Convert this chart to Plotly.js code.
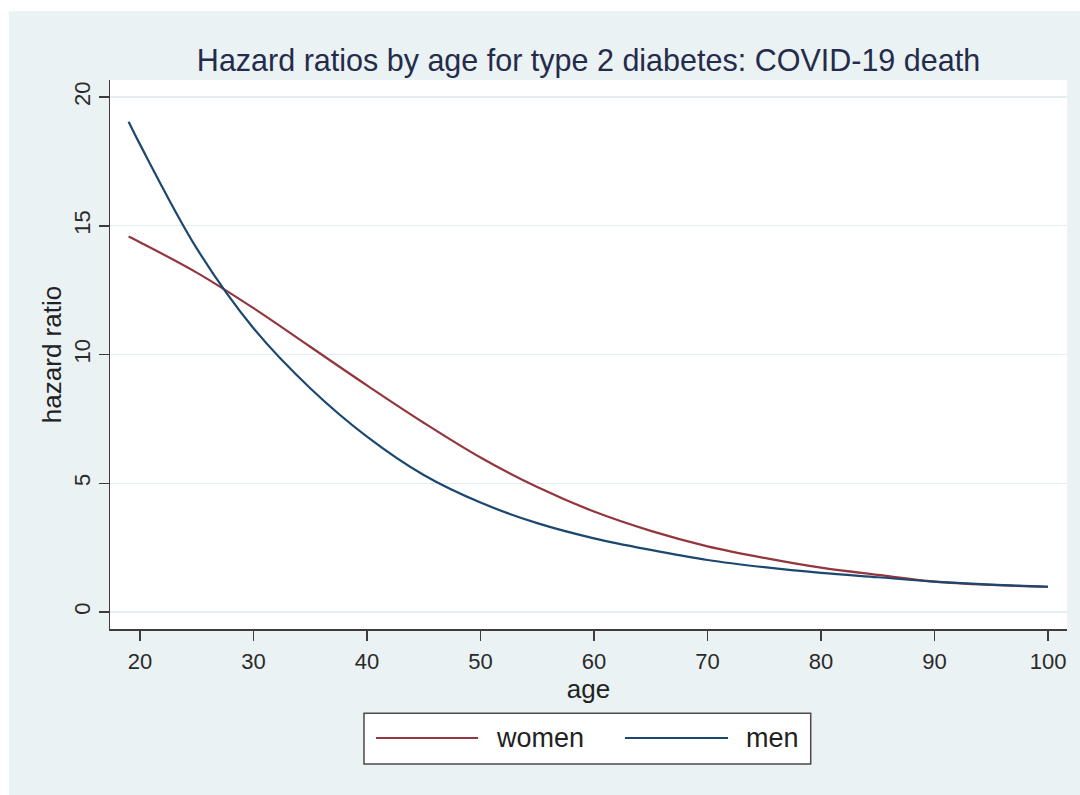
<!DOCTYPE html>
<html>
<head>
<meta charset="utf-8">
<script src="https://cdn.plot.ly/plotly-3.0.1.min.js"></script>
<style>
  html, body { margin: 0; padding: 0; background: #ffffff; }
  #chart { position: absolute; left: 9px; top: 11px; width: 1071px; height: 784px; }
</style>
</head>
<body>
<div id="chart"></div>
<script>
// Hazard ratios of COVID-19 death for type 2 diabetes, by age
const ages = [19, 20, 25, 30, 35, 40, 45, 50, 55, 60, 65, 70, 75, 80, 85, 90, 95, 100];
const womenHR = [14.58, 14.36, 13.18, 11.8, 10.3, 8.8, 7.35, 6.0, 4.85, 3.9, 3.15, 2.55, 2.1, 1.72, 1.44, 1.18, 1.05, 0.98];
const menHR = [19.04, 18.16, 14.12, 11.02, 8.69, 6.81, 5.32, 4.25, 3.45, 2.86, 2.41, 2.02, 1.74, 1.52, 1.35, 1.18, 1.06, 0.98];

const seriesNames = ['women', 'men'];
const seriesColors = ['#93363D', '#1C4870'];

const xTicks = [20, 30, 40, 50, 60, 70, 80, 90, 100];
const yTicks = [0, 5, 10, 15, 20];

const chartTitle = 'Hazard ratios by age for type 2 diabetes: COVID-19 death';
const xTitle = 'age';
const yTitle = 'hazard ratio';

const FONT = '"Liberation Sans", Arial, sans-serif';

const traces = [womenHR, menHR].map((vals, i) => ({
  x: ages,
  y: vals,
  type: 'scatter',
  mode: 'lines',
  name: seriesNames[i],
  line: { color: seriesColors[i], width: 2.2, shape: 'spline', smoothing: 1 },
  showlegend: false,
  hoverinfo: 'x+y+name'
}));

// Boxed legend below the plot, in paper coordinates
const legBox = { x0: 0.2654, x1: 0.7322, y0: -0.2459, y1: -0.1536 };
const legY = -0.1985;
const legItems = [
  { lx0: 0.2780, lx1: 0.3845, tx: 0.4010 },
  { lx0: 0.5381, lx1: 0.6458, tx: 0.6620 }
];

const shapes = [{
  type: 'rect', xref: 'paper', yref: 'paper',
  x0: legBox.x0, x1: legBox.x1, y0: legBox.y0, y1: legBox.y1,
  line: { color: '#4a4a4a', width: 1.5 }, fillcolor: '#ffffff', layer: 'below'
}];
const annotations = [];
legItems.forEach((it, i) => {
  shapes.push({
    type: 'line', xref: 'paper', yref: 'paper',
    x0: it.lx0, x1: it.lx1, y0: legY, y1: legY,
    line: { color: seriesColors[i], width: 2.2 }
  });
  annotations.push({
    xref: 'paper', yref: 'paper', x: it.tx, y: legY,
    xanchor: 'left', yanchor: 'middle', showarrow: false,
    text: seriesNames[i],
    font: { family: FONT, size: 27, color: '#222222' }
  });
});

const layout = {
  width: 1071,
  height: 784,
  paper_bgcolor: '#EAF2F3',
  plot_bgcolor: '#ffffff',
  margin: { l: 101, r: 13, t: 69, b: 166 },
  title: {
    text: chartTitle,
    x: 0.5, xref: 'paper', xanchor: 'center',
    y: 0.9375, yref: 'container', yanchor: 'middle',
    font: { family: FONT, size: 30.5, color: '#252b4a' }
  },
  xaxis: {
    range: [17.36, 101.67],
    tickmode: 'array', tickvals: xTicks,
    ticks: 'outside', ticklen: 10, tickwidth: 1.5, tickcolor: '#3c3c3c',
    ticklabelstandoff: 2,
    showline: true, linecolor: '#3c3c3c', linewidth: 1.5,
    showgrid: false, zeroline: false,
    tickfont: { family: FONT, size: 22, color: '#2a2a2a' },
    title: { text: xTitle, standoff: 3, font: { family: FONT, size: 26, color: '#222222' } },
    automargin: false
  },
  yaxis: {
    range: [-0.66, 20.66],
    tickmode: 'array', tickvals: yTicks,
    tickangle: -90,
    ticks: 'outside', ticklen: 10, tickwidth: 1.5, tickcolor: '#3c3c3c',
    ticklabelstandoff: 0,
    showline: true, linecolor: '#3c3c3c', linewidth: 1.5,
    showgrid: true, gridcolor: '#E4EDEF', gridwidth: 1.2,
    zeroline: false,
    tickfont: { family: FONT, size: 22, color: '#2a2a2a' },
    title: { text: yTitle, standoff: 0, font: { family: FONT, size: 26, color: '#222222' } },
    automargin: false
  },
  shapes: shapes,
  annotations: annotations,
  showlegend: false
};

Plotly.newPlot('chart', traces, layout, { displayModeBar: false, staticPlot: true });
</script>
</body>
</html>
